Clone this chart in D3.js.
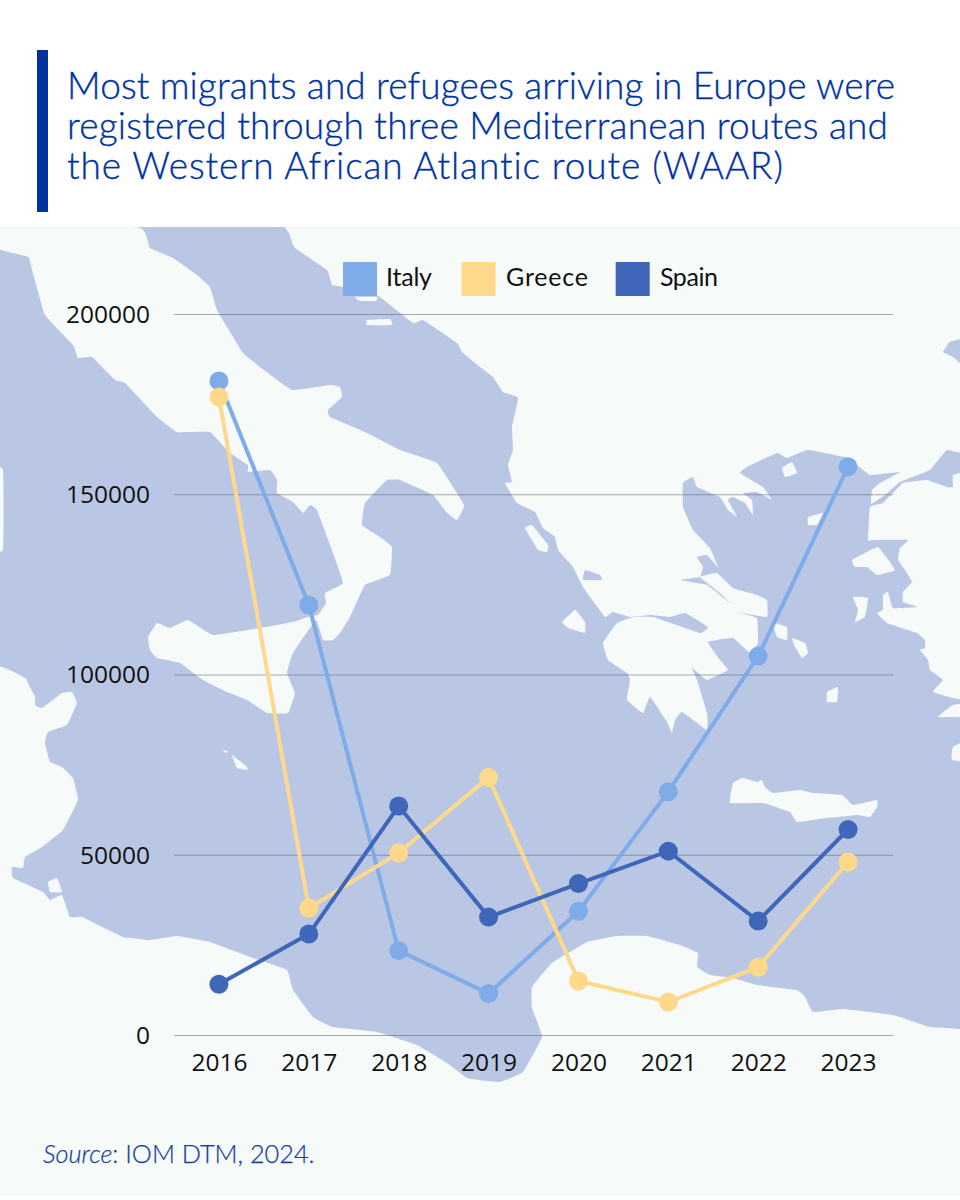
<!DOCTYPE html>
<html><head><meta charset="utf-8">
<script src="https://cdn.jsdelivr.net/npm/d3@7"></script>
<style>html,body{margin:0;padding:0;background:#fff}svg{display:block}text{font-variant-ligatures:none}</style>
</head><body><svg id="c" width="960" height="1200"></svg>
<script>
const years=[2016,2017,2018,2019,2020,2021,2022,2023];
const italy=[181400,119300,23400,11500,34300,67500,105100,157600];
const greece=[177000,35200,50500,71400,15000,9150,18800,48000];
const spain=[14100,28000,63500,32700,42000,51000,31600,57000];
const yTicks=[0,50000,100000,150000,200000];
const seriesNames=["Italy","Greece","Spain"];
const titleLines=["Most migrants and refugees arriving in Europe were","registered through three Mediterranean routes and","the Western African Atlantic route (WAAR)"];
const titleWidths=[828,821,716];

// Decorative background map (land outlines traced over the sea fill)
const landItaly=[[0,227],[0,245],[28,257],[32,270],[45,315],[73,345],[78,358],[92,357],[115,380],[125,383],[157,417],[177,432],[210,432],[230,453],[248,465],[248,472],[270,470],[277,480],[277,493],[293,502],[303,513],[310,505],[317,510],[333,553],[343,583],[325,593],[326,603],[318,615],[308,617],[293,622],[260,628],[213,635],[188,620],[170,628],[157,623],[148,637],[150,650],[157,658],[180,663],[203,680],[227,692],[247,700],[267,713],[288,713],[295,693],[287,673],[293,653],[316,620],[323,640],[333,640],[340,633],[350,617],[365,585],[390,575],[392,547],[380,537],[362,525],[365,503],[387,480],[400,480],[433,495],[447,513],[457,520],[464,505],[437,463],[400,450],[367,433],[330,417],[328,410],[342,397],[340,387],[330,385],[292,390],[260,367],[243,353],[227,327],[217,310],[210,287],[197,275],[173,258],[150,248],[140,228]];
const landBalkans=[[298,227],[290,235],[295,248],[327,270],[332,285],[343,287],[377,295],[413,323],[423,320],[457,343],[462,352],[480,367],[493,377],[503,392],[518,398],[512,427],[513,450],[508,465],[512,482],[505,483],[517,503],[535,512],[543,528],[555,537],[558,550],[573,567],[583,587],[605,617],[613,612],[630,617],[650,615],[670,617],[685,613],[708,627],[700,633],[653,617],[633,617],[617,623],[603,643],[608,660],[627,673],[630,680],[627,700],[643,713],[650,697],[667,722],[672,733],[675,720],[682,712],[707,730],[707,713],[697,680],[692,668],[707,680],[728,670],[720,660],[708,642],[733,638],[750,653],[758,643],[757,618],[737,612],[767,617],[767,600],[757,595],[733,588],[717,573],[700,577],[720,593],[730,603],[707,585],[680,580],[700,577],[703,567],[697,557],[707,555],[718,567],[710,548],[693,530],[683,507],[683,483],[693,477],[697,487],[720,497],[728,510],[737,517],[728,500],[733,497],[745,503],[753,515],[752,500],[743,493],[757,492],[772,500],[763,487],[740,473],[747,467],[777,453],[787,458],[808,450],[848,458],[870,475],[900,472],[880,483],[872,490],[871,504],[885,495],[900,482],[930,470],[947,450],[960,449],[960,227]];
const landTurkey=[[870,507],[883,503],[903,483],[927,480],[947,487],[953,487],[953,475],[960,477],[960,697],[933,692],[943,680],[930,670],[928,660],[920,650],[925,648],[925,640],[917,633],[887,623],[877,613],[883,610],[883,595],[888,592],[893,608],[918,607],[903,602],[903,592],[912,582],[905,570],[898,560],[900,548],[908,540],[873,540],[868,540]];
const landTurkey2=[[938,717],[953,705],[960,703],[960,716]];
const landTurkey3=[[952,760],[953,747],[960,737],[960,762]];
const landAfrica=[[0,675],[25,678],[28,683],[35,697],[35,705],[42,708],[62,693],[72,692],[77,703],[67,725],[48,732],[45,743],[50,762],[62,767],[73,778],[78,800],[63,830],[42,847],[25,857],[23,868],[12,867],[13,878],[43,892],[50,900],[62,895],[70,917],[82,917],[123,937],[150,940],[177,936],[210,942],[253,958],[287,970],[293,990],[313,1017],[333,1027],[377,1032],[417,1045],[447,1063],[467,1078],[480,1080],[500,1082],[523,1072],[542,1037],[532,1008],[532,987],[552,963],[587,942],[617,936],[647,936],[680,945],[698,953],[697,967],[710,975],[733,978],[757,985],[797,990],[805,997],[813,1012],[843,1009],[893,1015],[930,1027],[960,1035],[960,1196],[0,1196]];
const islands=[
 [[0,463],[3,470],[3,550],[0,550]],
 [[525,528],[532,525],[548,545],[547,552],[538,550]],
 [[562,622],[575,610],[585,622],[585,633],[568,628]],
 [[773,623],[787,627],[787,640],[777,637]],
 [[792,638],[805,643],[808,653],[802,658],[795,647]],
 [[782,468],[792,462],[797,473],[785,477]],
 [[808,517],[823,513],[817,525],[808,525]],
 [[852,560],[878,547],[895,570],[877,575],[867,567],[855,567]],
 [[853,597],[868,598],[865,617],[855,622],[858,610]],
 [[827,692],[838,687],[837,702],[827,702]],
 [[730,803],[733,783],[743,778],[757,782],[762,780],[765,787],[773,793],[800,790],[813,793],[842,795],[853,805],[877,800],[877,807],[870,817],[857,815],[827,818],[797,822],[790,812],[763,803]],
 [[355,297],[377,297],[376,301],[360,301]],
 [[367,320],[390,319],[392,325],[367,325]],
 [[222,750],[228,751],[226,753]],
 [[232,755],[247,767],[247,770],[237,768]],
 [[48,882],[57,878],[62,892],[50,892]]
];
const seaPatches=[
 [[943,352],[950,342],[960,337],[960,375],[953,357]],
 [[585,570],[600,575],[602,580],[583,580]]
];

const COL={bg:"#f6faf9",sea:"#b9c7e5",italy:"#7fabe9",greece:"#ffd98b",spain:"#3f66b8",title:"#0033a0",src:"#173f9e"};
const svg=d3.select("#c");
const mapLine=d3.line().curve(d3.curveCardinalClosed.tension(0.75));
const GILL="Lato, 'Noto Sans', sans-serif";

svg.append("rect").attr("width",960).attr("height",1200).attr("fill","#fff");
const map=svg.append("g");
svg.append("clipPath").attr("id","mapclip").append("rect").attr("y",227).attr("width",960).attr("height",969);
map.attr("clip-path","url(#mapclip)");
map.append("rect").attr("y",227).attr("width",960).attr("height",969).attr("fill",COL.sea);
// land that runs off the picture extends past the clip so smoothing cannot open gaps at the edges
const bleed=pts=>pts.map(([a,b])=>[a===960?975:a===0?-15:a,b===227?212:b===1196?1211:b]);
map.selectAll("path.l").data([landItaly,landBalkans,landTurkey,landTurkey2,landTurkey3,landAfrica,...islands].map(bleed)).join("path").attr("class","l").attr("d",mapLine).attr("fill",COL.bg);
map.selectAll("path.s").data(seaPatches.map(bleed)).join("path").attr("class","s").attr("d",mapLine).attr("fill",COL.sea);

svg.append("rect").attr("x",37).attr("y",50).attr("width",11).attr("height",162).attr("fill",COL.title);
const title=svg.append("text").attr("fill",COL.title).attr("stroke",COL.title).attr("stroke-width",0.35)
 .attr("font-family",GILL).attr("font-weight",300).attr("font-size",37);
title.selectAll("tspan").data(titleLines).join("tspan")
 .attr("x",67).attr("y",(d,i)=>99+i*40)
 .attr("textLength",(d,i)=>titleWidths[i]).attr("lengthAdjust","spacing").text(d=>d);

const x=d3.scalePoint().domain(years).range([174,893]).padding(0.5);
const y=d3.scaleLinear().domain([0,200000]).range([1035,314]);

const gy=svg.append("g").attr("transform","translate(174,0)")
 .call(d3.axisLeft(y).tickValues(yTicks).tickSize(-719).tickPadding(24).tickFormat(d3.format("d")));
gy.select(".domain").remove();
gy.selectAll("line").attr("stroke","#5f6670").attr("stroke-opacity",0.55).attr("stroke-width",1);
gy.selectAll("text").attr("font-family","'Open Sans', sans-serif").attr("font-size",24.5).attr("fill","#111").attr("dy","0.34em");
const gx=svg.append("g").attr("transform","translate(0,1035)")
 .call(d3.axisBottom(x).tickSize(0).tickPadding(36).tickFormat(d3.format("d")));
gx.select(".domain").remove();
gx.selectAll("text").attr("font-family","'Open Sans', sans-serif").attr("font-size",24.5).attr("fill","#111").attr("dy",0).attr("y",36);

const series=[[seriesNames[0],italy,COL.italy],[seriesNames[1],greece,COL.greece],[seriesNames[2],spain,COL.spain]];
const line=d3.line().x((d,i)=>x(years[i])).y(d=>y(d));
series.forEach(([n,vals,c])=>{
 const g=svg.append("g");
 g.append("path").attr("d",line(vals)).attr("fill","none").attr("stroke",c).attr("stroke-width",4);
 g.selectAll("circle").data(vals).join("circle").attr("cx",(d,i)=>x(years[i])).attr("cy",d=>y(d)).attr("r",9.5).attr("fill",c);
});

const legendX=[343,461.5,615.7], legendTextX=[386,506,660], legendWidths=[46,82,58];
series.forEach(([n,,c],i)=>{
 svg.append("rect").attr("x",legendX[i]).attr("y",262).attr("width",34).attr("height",34).attr("fill",c);
 svg.append("text").attr("x",legendTextX[i]).attr("y",286).attr("font-family",GILL).attr("font-size",25).attr("fill","#111")
  .attr("textLength",legendWidths[i]).attr("lengthAdjust","spacing").text(n);
});

const src=svg.append("text").attr("x",43).attr("y",1163).attr("font-family",GILL).attr("font-size",25.3).attr("font-weight",300).attr("fill",COL.src).attr("stroke",COL.src).attr("stroke-width",0.25);
src.append("tspan").attr("font-style","italic").text("Source");
src.append("tspan").text(": IOM DTM, 2024.");
</script></body></html>
